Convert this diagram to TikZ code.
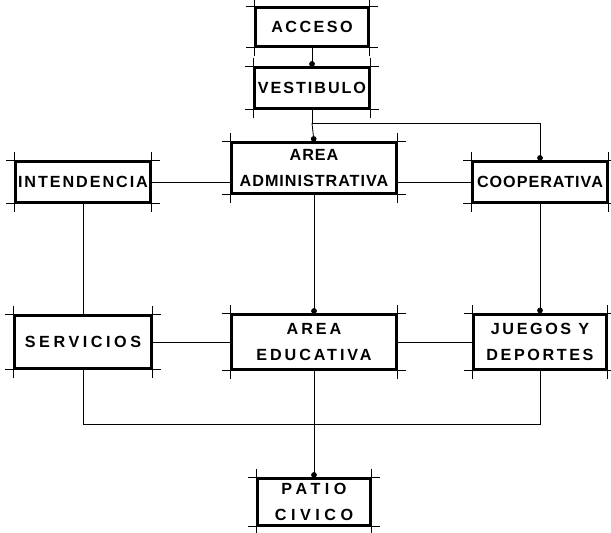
\documentclass[tikz,border=0pt]{standalone}
\usepackage{fontspec}
\setmainfont{Liberation Sans}
\usetikzlibrary{calc,arrows.meta,backgrounds}

\begin{document}
\begin{tikzpicture}[
    letras/.style = {font = \fontsize{11.5}{19}\selectfont\bfseries\addfontfeature{LetterSpace=#1}},
    caja/.style = {draw, line width = 1.8pt, fill = white, align = center,
                   letras = 6, inner sep = 0pt},
    guia/.style = {line width = 0.4pt},
    enlace/.style = {line width = 0.6pt},
    llega/.style = {enlace, -{Circle[length = 4pt]}}
  ]
                \useasboundingbox (0,0) rectangle (15.275,-13.3);
                % programa arquitectonico
                \node[caja, letras = 15, minimum width = 2.825cm, minimum height = 0.975cm] (acceso) at (7.8,-0.675) {ACCESO};
                \node[caja, letras = 12, minimum width = 2.875cm, minimum height = 1.0cm] (vestibulo) at (7.8,-2.2) {VESTIBULO};
                \node[caja, minimum width = 4.125cm, minimum height = 1.25cm] (admin) at (7.85,-4.2) {AREA\\ADMINISTRATIVA};
                \node[caja, letras = 12, minimum width = 3.375cm, minimum height = 1.0cm] (intendencia) at (2.075,-4.55) {INTENDENCIA};
                \node[caja, minimum width = 3.35cm, minimum height = 1.0cm] (cooperativa) at (13.5,-4.55) {COOPERATIVA};
                \node[caja, letras = 22, minimum width = 3.425cm, minimum height = 1.325cm] (servicios) at (2.075,-8.55) {SERVICIOS};
                \node[caja, letras = 18, minimum width = 4.125cm, minimum height = 1.35cm] (educativa) at (7.85,-8.55) {AREA\\EDUCATIVA};
                \node[caja, letras = 16, minimum width = 3.3cm, minimum height = 1.375cm] (juegos) at (13.5,-8.55) {JUEGOS Y\\DEPORTES};
                \node[caja, letras = 28, minimum width = 2.8cm, minimum height = 1.15cm] (patio) at (7.85,-12.55) {PATIO\\CIVICO};
                % lineas guia en las esquinas
                \foreach \n in {acceso,vestibulo,admin,intendencia,cooperativa,servicios,educativa,juegos,patio}{
                    \draw[guia] ($(\n.north west)+(-6pt,0pt)$) -- ($(\n.north east)+(6pt,0pt)$);
                    \draw[guia] ($(\n.south west)+(-6pt,0pt)$) -- ($(\n.south east)+(6pt,0pt)$);
                    \draw[guia] ($(\n.north west)+(0pt,6pt)$) -- ($(\n.south west)+(0pt,-6pt)$);
                    \draw[guia] ($(\n.north east)+(0pt,6pt)$) -- ($(\n.south east)+(0pt,-6pt)$);
                }
                \coordinate (reparto) at (7.8,-3.075);
                \coordinate (base) at (7.85,-10.6);
                \begin{scope}[on background layer]
                    \path[draw, llega] (acceso.south) -- (vestibulo.north);
                    \path[draw, enlace] (vestibulo.south) -- (reparto);
                    \path[draw, llega] (reparto) -- (admin.north);
                    \path[draw, llega] (reparto) -| (cooperativa.north);
                    \path[draw, enlace] (intendencia.east) -- (intendencia.east -| admin.west);
                    \path[draw, enlace] (cooperativa.west -| admin.east) -- (cooperativa.west);
                    \path[draw, enlace] (intendencia.south) -- (servicios.north);
                    \path[draw, llega] (admin.south) -- (educativa.north);
                    \path[draw, llega] (cooperativa.south) -- (juegos.north);
                    \path[draw, enlace] (servicios.east) -- (educativa.west);
                    \path[draw, enlace] (educativa.east) -- (juegos.west);
                    \path[draw, enlace] (servicios.south) |- (base) -| (juegos.south);
                    \path[draw, llega] (educativa.south) -- (patio.north);
                \end{scope}
            \end{tikzpicture}
\end{document}
